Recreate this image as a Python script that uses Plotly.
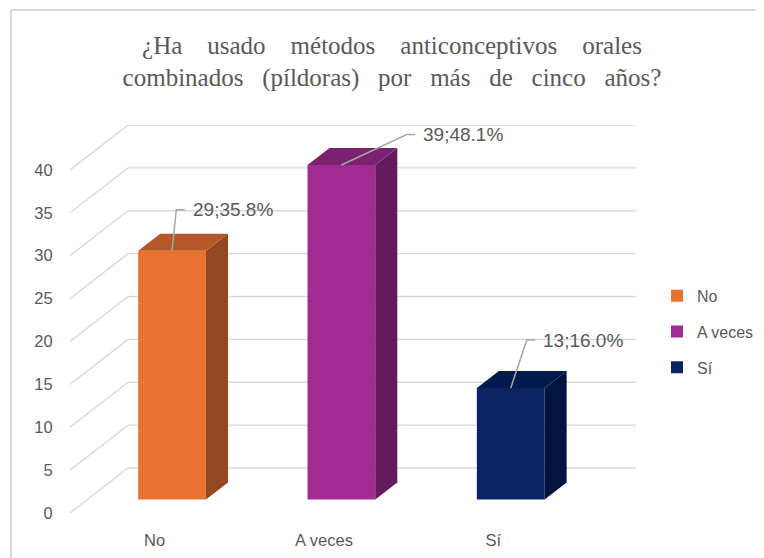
import plotly.graph_objects as go

# ---------------- data ----------------
categories = ["No", "A veces", "Sí"]
values = [29, 39, 13]
percents = [35.8, 48.1, 16.0]
y_ticks = [0, 5, 10, 15, 20, 25, 30, 35, 40]
title_line1 = ["¿Ha", "usado", "métodos", "anticonceptivos", "orales"]
title_line2 = ["combinados", "(píldoras)", "por", "más", "de", "cinco", "años?"]

# ---------------- styling / geometry ----------------
front_colors = ["#E97132", "#A02B93", "#0B2362"]
side_colors = ["#944720", "#631B5B", "#00153E"]
top_colors = ["#B5582A", "#7A2170", "#001A4D"]
label_dx = [0.025, 0.386, 0.095]   # leader elbow offsets (category units)
label_dy = [4.8, 3.55, 5.6]        # leader elbow offsets (value units)

DX, DY = 0.3426, 5.24   # oblique depth of the floor in axis units
F0, F1 = 0.30, 0.68     # bar depth start/end as fraction of floor depth
BW = 0.40               # bar width (category units)
GRID = "#d9d9d9"
TXT = "#595959"

n = len(categories)
x_min, x_max = -0.5, n - 0.5

title_text = (" \u00a0\u00a0\u00a0".join(title_line1) + "<br>" +
              " \u00a0\u00a0".join(title_line2))

fig = go.Figure()

# gridlines: diagonal on the left side wall + horizontal on the back wall
shapes = []
for t in y_ticks:
    shapes.append(dict(type="line", xref="x", yref="y", layer="below",
                       x0=x_min, y0=t, x1=x_min + DX, y1=t + DY,
                       line=dict(color=GRID, width=1.4)))
    shapes.append(dict(type="line", xref="x", yref="y", layer="below",
                       x0=x_min + DX, y0=t + DY, x1=x_max + DX, y1=t + DY,
                       line=dict(color=GRID, width=1.4)))

# chart frame (top and left border)
shapes.append(dict(type="line", xref="paper", yref="paper", x0=-0.1042, y0=1.2964,
                   x1=1.25, y1=1.2964, line=dict(color="#d9d9d9", width=2)))
shapes.append(dict(type="line", xref="paper", yref="paper", x0=-0.1042, y0=1.2964,
                   x1=-0.1042, y1=-0.14, line=dict(color="#d9d9d9", width=2)))

dx0, dy0 = F0 * DX, F0 * DY
ddx, ddy = (F1 - F0) * DX, (F1 - F0) * DY

annotations = []
for i, (c, v, p) in enumerate(zip(categories, values, percents)):
    xc = i + dx0
    xl, xr = xc - BW / 2, xc + BW / 2
    top = v + dy0
    # front face
    fig.add_trace(go.Bar(x=[xc], y=[v], base=[dy0], width=BW, name=c,
                         legendgroup=c, marker=dict(color=front_colors[i], line=dict(width=0)),
                         hoverinfo="skip"))
    # side face
    fig.add_trace(go.Scatter(x=[xr, xr, xr + ddx, xr + ddx, xr],
                             y=[dy0, top, top + ddy, dy0 + ddy, dy0],
                             fill="toself", fillcolor=side_colors[i], mode="lines",
                             line=dict(width=0, color=side_colors[i]),
                             showlegend=False, hoverinfo="skip"))
    # top face
    fig.add_trace(go.Scatter(x=[xl, xr, xr + ddx, xl + ddx, xl],
                             y=[top, top, top + ddy, top + ddy, top],
                             fill="toself", fillcolor=top_colors[i], mode="lines",
                             line=dict(width=0, color=top_colors[i]),
                             showlegend=False, hoverinfo="skip"))
    # leader line
    sx, sy = xc, top
    ex, ey = xc + label_dx[i], top + label_dy[i]
    fig.add_trace(go.Scatter(x=[sx, ex, ex + 0.05], y=[sy, ey, ey], mode="lines",
                             line=dict(color="#a6a6a6", width=1.5),
                             showlegend=False, hoverinfo="skip"))
    annotations.append(dict(x=ex + 0.085, y=ey, xref="x", yref="y", xanchor="left",
                            yanchor="middle", showarrow=False,
                            text=f"{v};{p:.1f}%",
                            font=dict(family="Liberation Sans", size=19, color=TXT)))

fig.update_layout(
    width=764, height=558, autosize=False,
    margin=dict(l=62, r=136, t=117, b=53, autoexpand=False),
    paper_bgcolor="white", plot_bgcolor="white",
    barmode="overlay",
    title=dict(text=title_text, x=0.5026, xanchor="center", y=0.918, yanchor="middle",
               xref="container", yref="container",
               font=dict(family="Liberation Serif", size=25, color=TXT)),
    xaxis=dict(range=[x_min, x_max + DX], tickmode="array", tickvals=list(range(n)),
               ticktext=categories, showgrid=False, zeroline=False, showline=False,
               ticks="outside", ticklen=12, tickcolor="rgba(0,0,0,0)",
               tickfont=dict(family="Liberation Sans", size=16.5, color=TXT),
               automargin=False, fixedrange=True),
    yaxis=dict(range=[0, y_ticks[-1] + DY], tickmode="array", tickvals=y_ticks,
               showgrid=False, zeroline=False, showline=False,
               ticks="outside", ticklen=13, tickcolor="rgba(0,0,0,0)",
               tickfont=dict(family="Liberation Sans", size=16.5, color=TXT),
               automargin=False, fixedrange=True),
    legend=dict(x=1.0371, y=0.467, xanchor="left", yanchor="middle",
                font=dict(family="Liberation Sans", size=16, color=TXT),
                tracegroupgap=12, bgcolor="rgba(0,0,0,0)"),
    shapes=shapes,
    annotations=annotations,
    showlegend=True,
)

fig.write_html("out.html")
